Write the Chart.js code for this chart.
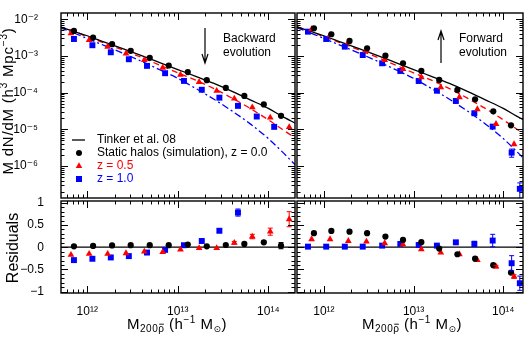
<!DOCTYPE html>
<html><head><meta charset="utf-8">
<script src="https://cdn.jsdelivr.net/npm/chart.js@4.4.1/dist/chart.umd.min.js"></script>
<style>
html,body{margin:0;padding:0;background:#fff;}
#wrap{position:relative;width:531px;height:339px;overflow:hidden;background:#fff;}
canvas{position:absolute;}
</style></head><body>
<div id="wrap">
<canvas id="tl" width="300" height="200" style="left:0px;top:0px"></canvas>
<canvas id="tr" width="241" height="200" style="left:290px;top:0px"></canvas>
<canvas id="bl" width="300" height="149" style="left:0px;top:190px"></canvas>
<canvas id="br" width="241" height="149" style="left:290px;top:190px"></canvas>
</div>
<script>
// ---------------- DATA ----------------
const massTicks = [1e12, 1e13, 1e14];
const massTickLabels = ['10¹²', '10¹³', '10¹⁴'];
const nTicks = [1e-6, 1e-5, 1e-4, 1e-3, 1e-2];
const nTickLabels = ['10⁻⁶', '10⁻⁵', '10⁻⁴', '10⁻³', '10⁻²'];
const resTicks = [-1, -0.5, 0, 0.5, 1];
const resTickLabels = ['−1', '−0.5', '0', '0.5', '1'];

// model curves (M in h^-1 Msun, dN/dM*M in h^3 Mpc^-3)
const curveMass = [5.01e11, 7.08e11, 1.0e12, 1.58e12, 2.51e12, 3.98e12, 6.31e12, 1.0e13, 1.58e13, 2.51e13, 3.98e13, 6.31e13, 1.0e14, 1.41e14, 2.0e14];
const tinker08 = [6.17e-3, 4.68e-3, 3.55e-3, 2.33e-3, 1.55e-3, 1.02e-3, 6.61e-4, 4.27e-4, 2.79e-4, 1.78e-4, 1.08e-4, 6.38e-5, 3.72e-5, 2.29e-5, 1.45e-5];
const fitZ05 = [6.17e-3, 4.79e-3, 3.31e-3, 2.21e-3, 1.43e-3, 9.12e-4, 5.62e-4, 3.47e-4, 2.19e-4, 1.29e-4, 7.08e-5, 3.72e-5, 1.82e-5, 1.02e-5, 5.75e-6];
const fitZ10 = [5.89e-3, 4.27e-3, 2.99e-3, 1.88e-3, 1.17e-3, 7.16e-4, 4.22e-4, 2.45e-4, 1.30e-4, 6.61e-5, 3.16e-5, 1.41e-5, 5.62e-6, 2.51e-6, 1.05e-6];

// Backward evolution (left)
const bwMassZ0 = [7.13e11, 1.16e12, 1.88e12, 3.02e12, 4.90e12, 7.94e12, 1.29e13, 2.09e13, 3.39e13, 5.43e13, 8.91e13, 1.38e14];
const bwNZ0 = [4.80e-3, 3.16e-3, 2.09e-3, 1.38e-3, 8.91e-4, 5.50e-4, 3.63e-4, 2.19e-4, 1.35e-4, 8.13e-5, 4.79e-5, 2.34e-5];
const bwResZ0 = [0.02, 0.03, 0.04, 0.045, 0.045, 0.045, 0.06, 0.02, 0.05, 0.075, 0.11, 0.035];
const bwErrZ0 = [0, 0, 0, 0, 0, 0, 0, 0, 0, 0, 0.03, 0.07];

const bwMassZ05 = [6.61e11, 1.05e12, 1.68e12, 2.68e12, 4.27e12, 6.81e12, 1.07e13, 1.72e13, 2.69e13, 4.21e13, 6.65e13, 1.05e14, 1.70e14];
const bwNZ05 = [4.17e-3, 2.73e-3, 1.79e-3, 1.17e-3, 7.76e-4, 4.79e-4, 3.09e-4, 1.95e-4, 1.12e-4, 6.92e-5, 3.98e-5, 2.09e-5, 1.15e-5];
const bwResZ05 = [-0.17, -0.15, -0.15, -0.135, -0.10, -0.11, -0.05, -0.02, -0.02, 0.10, 0.24, 0.35, 0.63];
const bwErrZ05 = [0, 0, 0, 0, 0, 0, 0, 0, 0, 0.03, 0.05, 0.08, 0.17];

const bwMassZ10 = [7.13e11, 1.14e12, 1.82e12, 2.88e12, 4.57e12, 7.24e12, 1.17e13, 1.84e13, 2.88e13, 4.62e13, 7.45e13, 1.16e14];
const bwNZ10 = [2.90e-3, 1.96e-3, 1.26e-3, 8.13e-4, 5.37e-4, 3.39e-4, 2.09e-4, 1.20e-4, 7.31e-5, 4.37e-5, 2.24e-5, 1.17e-5];
const bwResZ10 = [-0.29, -0.26, -0.23, -0.20, -0.12, -0.06, 0.045, 0.14, 0.37, 0.78, 1.2, 1.95];
const bwErrZ10 = [0, 0, 0, 0, 0, 0, 0, 0.02, 0.04, 0.08, 0.15, 0.3];

// Forward evolution (right)
const fwMassZ0 = [7.74e11, 1.21e12, 1.93e12, 3.03e12, 4.85e12, 7.62e12, 1.22e13, 1.93e13, 3.08e13, 4.85e13, 7.74e13, 1.22e14];
const fwNZ0 = [5.69e-3, 3.90e-3, 2.56e-3, 1.62e-3, 1.02e-3, 6.32e-4, 3.90e-4, 2.22e-4, 1.19e-4, 6.61e-5, 3.11e-5, 1.29e-5];
const fwResZ0 = [0.315, 0.367, 0.35, 0.315, 0.24, 0.164, 0.113, -0.03, -0.158, -0.257, -0.405, -0.57];
const fwErrZ0 = [0, 0, 0, 0, 0, 0, 0, 0, 0, 0, 0.02, 0.03];

const fwMassZ05 = [7.29e11, 1.17e12, 1.87e12, 2.98e12, 4.76e12, 7.62e12, 1.22e13, 2.01e13, 3.24e13, 5.14e13, 8.30e13, 1.32e14];
const fwNZ05 = [5.35e-3, 3.73e-3, 2.36e-3, 1.39e-3, 7.78e-4, 4.43e-4, 2.63e-4, 1.40e-4, 7.50e-5, 3.53e-5, 1.40e-5, 3.93e-6];
const fwResZ05 = [0.18, 0.18, 0.14, 0.126, 0.09, 0.06, -0.045, -0.12, -0.158, -0.286, -0.437, -0.66];
const fwErrZ05 = [0, 0, 0, 0, 0, 0, 0, 0, 0, 0, 0.03, 0.04];

const fwMassZ10 = [6.64e11, 1.06e12, 1.71e12, 2.71e12, 4.46e12, 7.11e12, 1.14e13, 1.82e13, 2.96e13, 4.76e13, 7.62e13, 1.24e14, 1.53e14];
const fwNZ10 = [4.59e-3, 2.90e-3, 1.79e-3, 1.06e-3, 6.32e-4, 3.90e-4, 2.08e-4, 1.13e-4, 5.94e-5, 2.75e-5, 1.19e-5, 2.32e-6, 2.40e-7];
const fwResZ10 = [0.013, 0.013, 0.013, 0.013, 0.036, 0.074, 0.05, 0.036, 0.11, 0.074, 0.15, -0.36, -0.81];
const fwErrZ10 = [0, 0, 0, 0, 0, 0, 0, 0, 0.03, 0.06, 0.14, 0.17, 0.16];
const fwTopErrZ10 = [0, 0, 0, 0, 0, 0, 0, 0, 0, 0, 0, 0.25, 0.45];

// ---------------- STYLE ----------------
const COL = {k: '#000000', r: '#ff0000', b: '#0000ff'};
const FONT = '"Liberation Sans", "DejaVu Sans", Arial, sans-serif';

function pts(xs, ys) { return xs.map((x, i) => ({x: x, y: ys[i]})); }

function curveDs(ys, color, dash) {
  return {type: 'line', data: pts(curveMass, ys), borderColor: color, borderWidth: 1.3,
    borderDash: dash, pointRadius: 0, fill: false, cubicInterpolationMode: 'monotone', clip: 0, order: 5};
}
function pointDs(xs, ys, color, style, radius, errs, frac) {
  return {type: 'scatter', data: pts(xs, ys), backgroundColor: color, borderColor: color,
    pointStyle: style, pointRadius: radius, pointBorderWidth: 0, showLine: false, clip: 0,
    errs: errs || null, errFrac: !!frac, order: 1};
}

function logList(min, max) {
  const out = [];
  for (let d = Math.floor(Math.log10(min)); d <= Math.ceil(Math.log10(max)); d++) {
    for (let k = 1; k <= 9; k++) {
      const v = k * Math.pow(10, d);
      if (v >= min * 0.9999 && v <= max * 1.0001) out.push({v: v, major: k === 1});
    }
  }
  return out;
}
function linList(min, max) {
  const out = [];
  for (let i = Math.ceil(min * 10 - 1e-6); i <= Math.floor(max * 10 + 1e-6); i++) {
    out.push({v: i / 10, major: i % 5 === 0});
  }
  return out;
}

function framePlugin(yLog, zero) {
  return {
    id: 'frame',
    beforeDatasetsDraw(chart) {
      if (!zero) return;
      const {ctx, chartArea: a} = chart;
      const py = chart.scales.y.getPixelForValue(0);
      ctx.save(); ctx.strokeStyle = '#000'; ctx.lineWidth = 1.3;
      ctx.beginPath(); ctx.moveTo(a.left, py); ctx.lineTo(a.right, py); ctx.stroke(); ctx.restore();
    },
    afterDraw(chart) {
      const {ctx, chartArea: a} = chart;
      const xs = chart.scales.x, ys = chart.scales.y;
      ctx.save(); ctx.strokeStyle = '#000'; ctx.lineWidth = 1;
      ctx.beginPath();
      for (const t of logList(xs.min, xs.max)) {
        const px = Math.round(xs.getPixelForValue(t.v)) + 0.5;
        const L = t.major ? 7 : 3.5;
        ctx.moveTo(px, a.bottom); ctx.lineTo(px, a.bottom - L);
        ctx.moveTo(px, a.top); ctx.lineTo(px, a.top + L);
      }
      const yl = yLog ? logList(ys.min, ys.max) : linList(ys.min, ys.max);
      for (const t of yl) {
        const py = Math.round(ys.getPixelForValue(t.v)) + 0.5;
        const L = t.major ? 7 : 3.5;
        ctx.moveTo(a.left, py); ctx.lineTo(a.left + L, py);
        ctx.moveTo(a.right, py); ctx.lineTo(a.right - L, py);
      }
      ctx.stroke();
      ctx.lineWidth = 1.4;
      ctx.strokeRect(a.left, a.top, a.right - a.left, a.bottom - a.top);
      ctx.restore();
    }
  };
}

const errPlugin = {
  id: 'errbars',
  afterDatasetsDraw(chart) {
    const {ctx, chartArea: a} = chart;
    const ys = chart.scales.y;
    ctx.save();
    ctx.beginPath(); ctx.rect(a.left, a.top, a.right - a.left, a.bottom - a.top); ctx.clip();
    chart.data.datasets.forEach((ds, i) => {
      if (!ds.errs) return;
      const meta = chart.getDatasetMeta(i);
      ds.data.forEach((p, j) => {
        const e = ds.errs[j];
        if (!e) return;
        const px = meta.data[j].x;
        const lo = ds.errFrac ? p.y * (1 - e) : p.y - e;
        const hi = ds.errFrac ? p.y * (1 + e) : p.y + e;
        const y1 = ys.getPixelForValue(lo), y2 = ys.getPixelForValue(hi);
        ctx.strokeStyle = ds.backgroundColor; ctx.lineWidth = 1;
        ctx.beginPath();
        ctx.moveTo(px, y1); ctx.lineTo(px, y2);
        ctx.moveTo(px - 2.5, y1); ctx.lineTo(px + 2.5, y1);
        ctx.moveTo(px - 2.5, y2); ctx.lineTo(px + 2.5, y2);
        ctx.stroke();
      });
    });
    ctx.restore();
  }
};

// text helpers (mixed-size runs: [text, size, dy, overbar])
function runsWidth(ctx, runs) {
  let w = 0;
  for (const r of runs) { ctx.font = r[1] + 'px ' + FONT; w += ctx.measureText(r[0]).width; }
  return w;
}
function drawRuns(ctx, x, y, runs) {
  for (const r of runs) {
    ctx.font = r[1] + 'px ' + FONT;
    ctx.fillText(r[0], x, y + r[2]);
    const w = ctx.measureText(r[0]).width;
    if (r[3]) {
      ctx.save(); ctx.lineWidth = 0.9; ctx.strokeStyle = ctx.fillStyle;
      ctx.beginPath(); ctx.moveTo(x + 1, y + r[2] - r[1] * 0.78); ctx.lineTo(x + w - 0.5, y + r[2] - r[1] * 0.78); ctx.stroke();
      ctx.restore();
    }
    x += w;
  }
  return x;
}
const xTitleRuns = [['M', 15, 0], ['200', 10, 3], ['ρ', 10, 3, true], [' (h', 15, 0], ['−1', 10, -6], [' M', 15, 0], ['⊙', 9, 3], [')', 15, 0]];
const yTitleRuns = [['M dN/dM (h', 15, 0], ['3', 10, -6], [' Mpc', 15, 0], ['−3', 10, -6], [')', 15, 0]];

function arrow(ctx, x, y0, y1) {
  ctx.save(); ctx.strokeStyle = '#000'; ctx.lineWidth = 1.2;
  ctx.beginPath(); ctx.moveTo(x, y0); ctx.lineTo(x, y1);
  const s = y1 > y0 ? -1 : 1;
  ctx.moveTo(x - 3, y1 + s * 9); ctx.lineTo(x, y1); ctx.lineTo(x + 3, y1 + s * 9);
  ctx.stroke(); ctx.restore();
}

const tlDeco = {
  id: 'tlDeco',
  afterDraw(chart) {
    const ctx = chart.ctx;
    ctx.save();
    ctx.fillStyle = '#000'; ctx.textBaseline = 'alphabetic';
    // y title
    ctx.save(); ctx.translate(12.5, 101); ctx.rotate(-Math.PI / 2);
    try { ctx.letterSpacing = '0.8px'; } catch (e) {}
    const w = runsWidth(ctx, yTitleRuns);
    drawRuns(ctx, -w / 2, 0, yTitleRuns);
    ctx.restore();
    // legend
    ctx.font = '12px ' + FONT; ctx.textBaseline = 'middle';
    ctx.strokeStyle = '#000'; ctx.lineWidth = 1.3;
    ctx.beginPath(); ctx.moveTo(72, 140); ctx.lineTo(85, 140); ctx.stroke();
    ctx.fillText('Tinker et al. 08', 97, 140);
    ctx.beginPath(); ctx.arc(79, 153, 3, 0, Math.PI * 2); ctx.fill();
    ctx.fillText('Static halos (simulation), z = 0.0', 97, 153);
    ctx.fillStyle = COL.r;
    const r = 3.8, cx = 79, cy = 166;
    ctx.beginPath(); ctx.moveTo(cx, cy - r); ctx.lineTo(cx - r * 0.866, cy + r / 2); ctx.lineTo(cx + r * 0.866, cy + r / 2); ctx.closePath(); ctx.fill();
    ctx.fillText('z = 0.5', 97, 165.5);
    ctx.fillStyle = COL.b;
    ctx.fillRect(76, 176, 6, 6);
    ctx.fillText('z = 1.0', 97, 179);
    // annotation
    ctx.fillStyle = '#000';
    ctx.fillText('Backward', 223, 39);
    ctx.fillText('evolution', 223, 53);
    ctx.restore();
    arrow(ctx, 205, 28, 63);
  }
};
const trDeco = {
  id: 'trDeco',
  afterDraw(chart) {
    const ctx = chart.ctx;
    ctx.save(); ctx.fillStyle = '#000'; ctx.font = '12px ' + FONT; ctx.textBaseline = 'middle';
    ctx.fillText('Forward', 169, 39);
    ctx.fillText('evolution', 169, 53);
    ctx.restore();
    arrow(ctx, 151, 63, 31);
  }
};
function xTitleDeco(cx) {
  return {
    id: 'xTitle',
    afterDraw(chart) {
      const ctx = chart.ctx;
      ctx.save(); ctx.fillStyle = '#000'; ctx.textBaseline = 'alphabetic';
      try { ctx.letterSpacing = '0.5px'; } catch (e) {}
      const w = runsWidth(ctx, xTitleRuns);
      drawRuns(ctx, cx - w / 2, 139, xTitleRuns);
      ctx.restore();
    }
  };
}
const blDeco = {
  id: 'blDeco',
  afterDraw(chart) {
    const ctx = chart.ctx;
    ctx.save(); ctx.fillStyle = '#000'; ctx.textBaseline = 'alphabetic';
    ctx.translate(18, 58); ctx.rotate(-Math.PI / 2);
    ctx.font = '16px ' + FONT; ctx.textAlign = 'center';
    ctx.fillText('Residuals', 0, 0);
    ctx.restore();
  }
};

function zeroPads(s) { s.paddingLeft = 0; s.paddingRight = 0; s.paddingTop = 0; s.paddingBottom = 0; }

function makeChart(id, c) {
  return new Chart(document.getElementById(id), {
    type: 'scatter',
    data: {datasets: c.datasets},
    options: {
      responsive: false, animation: false, devicePixelRatio: 1, events: [],
      layout: {padding: c.pad, autoPadding: false},
      plugins: {legend: {display: false}, tooltip: {enabled: false}},
      scales: {
        x: {
          type: 'logarithmic', min: c.xMin, max: c.xMax, bounds: 'data', display: c.showX,
          grid: {display: false}, border: {display: false},
          ticks: {autoSkip: false, maxRotation: 0, minRotation: 0, padding: 3, color: '#000',
            font: {family: FONT, size: 12},
            callback: (v) => { const i = massTicks.indexOf(v); return i < 0 ? '' : massTickLabels[i]; }},
          afterBuildTicks: (s) => { s.ticks = massTicks.map(v => ({value: v})); },
          afterFit: (s) => { if (c.showX) s.height = 46; zeroPads(s); }
        },
        y: {
          type: c.yLog ? 'logarithmic' : 'linear', min: c.yMin, max: c.yMax, bounds: 'data', display: c.showY,
          grid: {display: false}, border: {display: false},
          ticks: {autoSkip: false, padding: c.yLog ? 15 : 9, color: '#000',
            font: {family: FONT, size: c.yLog ? 12 : 12},
            callback: (v) => {
              const T = c.yLog ? nTicks : resTicks, L = c.yLog ? nTickLabels : resTickLabels;
              const i = T.indexOf(v); return i < 0 ? '' : L[i];
            }},
          afterBuildTicks: (s) => { s.ticks = (c.yLog ? nTicks : resTicks).map(v => ({value: v})); },
          afterFit: (s) => { if (c.showY) s.width = 61; zeroPads(s); }
        }
      }
    },
    plugins: [framePlugin(c.yLog, !c.yLog), errPlugin].concat(c.extra || [])
  });
}

const nMin = 1.35e-7, nMax = 1.48e-2;
const xMinL = 5.13e11, xMaxL = 1.97e14;
const xMinR = 5.01e11, xMaxR = 1.66e14;

makeChart('tl', {
  xMin: xMinL, xMax: xMaxL, yLog: true, yMin: nMin, yMax: nMax, showX: false, showY: true,
  pad: {top: 13, bottom: 2, left: 0, right: 5},
  datasets: [
    curveDs(tinker08, COL.k, []), curveDs(fitZ05, COL.r, [6, 4]), curveDs(fitZ10, COL.b, [7, 3, 2, 3]),
    pointDs(bwMassZ0, bwNZ0, COL.k, 'circle', 3.1),
    pointDs(bwMassZ05, bwNZ05, COL.r, 'triangle', 3.9),
    pointDs(bwMassZ10, bwNZ10, COL.b, 'rect', 4.2)
  ],
  extra: [tlDeco]
});
makeChart('tr', {
  xMin: xMinR, xMax: xMaxR, yLog: true, yMin: nMin, yMax: nMax, showX: false, showY: false,
  pad: {top: 13, bottom: 2, left: 7, right: 8},
  datasets: [
    curveDs(tinker08, COL.k, []), curveDs(fitZ05, COL.r, [6, 4]), curveDs(fitZ10, COL.b, [7, 3, 2, 3]),
    pointDs(fwMassZ0, fwNZ0, COL.k, 'circle', 3.1),
    pointDs(fwMassZ05, fwNZ05, COL.r, 'triangle', 3.9),
    pointDs(fwMassZ10, fwNZ10, COL.b, 'rect', 4.2, fwTopErrZ10, true)
  ],
  extra: [trDeco]
});
makeChart('bl', {
  xMin: xMinL, xMax: xMaxL, yLog: false, yMin: -1.03, yMax: 1.04, showX: true, showY: true,
  pad: {top: 11, bottom: 0, left: 0, right: 5},
  datasets: [
    pointDs(bwMassZ0, bwResZ0, COL.k, 'circle', 3.1, bwErrZ0),
    pointDs(bwMassZ05, bwResZ05, COL.r, 'triangle', 3.9, bwErrZ05),
    pointDs(bwMassZ10, bwResZ10, COL.b, 'rect', 4.2, bwErrZ10)
  ],
  extra: [xTitleDeco(177), blDeco]
});
makeChart('br', {
  xMin: xMinR, xMax: xMaxR, yLog: false, yMin: -1.03, yMax: 1.04, showX: true, showY: false,
  pad: {top: 11, bottom: 0, left: 7, right: 8},
  datasets: [
    pointDs(fwMassZ0, fwResZ0, COL.k, 'circle', 3.1, fwErrZ0),
    pointDs(fwMassZ05, fwResZ05, COL.r, 'triangle', 3.9, fwErrZ05),
    pointDs(fwMassZ10, fwResZ10, COL.b, 'rect', 4.2, fwErrZ10)
  ],
  extra: [xTitleDeco(122)]
});
</script>
</body></html>
